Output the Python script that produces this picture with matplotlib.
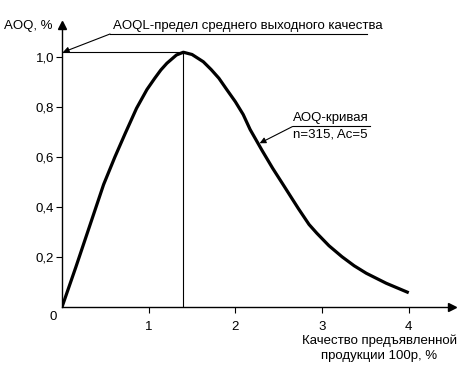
import numpy as np
import matplotlib.pyplot as plt

plt.rcParams['font.family'] = ['Liberation Sans', 'DejaVu Sans']

# AOQ curve, values (p in %, AOQ in %)
p = [0.0, 0.16, 0.32, 0.48, 0.61, 0.73, 0.86, 0.98, 1.07, 1.14, 1.21, 1.32, 1.40,
     1.50, 1.63, 1.72, 1.81, 1.90, 2.0, 2.09, 2.17, 2.31, 2.43, 2.55, 2.66, 2.73,
     2.85, 2.94, 3.08, 3.23, 3.37, 3.51, 3.74, 4.0]
aoq = [0.0, 0.16, 0.325, 0.49, 0.60, 0.695, 0.795, 0.87, 0.915, 0.948, 0.975, 1.008, 1.019,
       1.010, 0.981, 0.95, 0.915, 0.87, 0.821, 0.77, 0.71, 0.625, 0.555, 0.49, 0.43, 0.392,
       0.33, 0.295, 0.245, 0.201, 0.165, 0.135, 0.095, 0.057]

aoql = 1.019
p_aoql = 1.40

xticks = [1, 2, 3, 4]
yticks = [0.2, 0.4, 0.6, 0.8, 1.0]
ytick_labels = ['0,2', '0,4', '0,6', '0,8', '1,0']

fig = plt.figure(figsize=(4.6, 3.66), dpi=100)
ax = fig.add_axes([0.1348, 0.1612, 0.848, 0.7705])
ax.set_xlim(0, 4.5)
ax.set_ylim(0, 1.128)

ax.plot(p, aoq, color='black', lw=2.3, solid_joinstyle='round', solid_capstyle='butt')
ax.plot([p_aoql, p_aoql], [0, aoql], color='black', lw=0.8)
ax.plot([0, p_aoql], [aoql, aoql], color='black', lw=0.8)

# axes with arrows
for s in ['top', 'right']:
    ax.spines[s].set_visible(False)
ax.spines['left'].set_linewidth(1.0)
ax.spines['bottom'].set_linewidth(1.0)
ax.plot(1, 0, '>k', ms=6, transform=ax.get_yaxis_transform(), clip_on=False)
ax.plot(0, 1, '^k', ms=6, transform=ax.get_xaxis_transform(), clip_on=False)

ax.set_xticks(xticks)
ax.set_xticklabels([str(t) for t in xticks])
ax.set_yticks(yticks)
ax.set_yticklabels(ytick_labels)
ax.tick_params(direction='out', length=4, width=0.8, labelsize=9.5, colors='black')
ax.tick_params(axis='x', pad=6)
ax.tick_params(axis='y', pad=1.5)

ax.text(-0.06, -0.015, '0', ha='right', va='top', fontsize=9.5)
ax.text(-0.39, 1.124, 'AOQ, %', ha='center', va='center', fontsize=9.5, clip_on=False)

# AOQL annotation
ax.text(0.59, 1.124, 'AOQL-предел среднего выходного качества', ha='left', va='center',
        fontsize=9.5, clip_on=False)
ax.plot([0.554, 3.52], [1.092, 1.092], color='black', lw=0.8, clip_on=False)
ax.annotate('', xy=(0.01, aoql), xytext=(0.554, 1.092),
            arrowprops=dict(arrowstyle='-|>', color='black', lw=0.8,
                            mutation_scale=9, shrinkA=0, shrinkB=0))

# curve annotation
ax.text(2.67, 0.756, 'AOQ-кривая', ha='left', va='center', fontsize=9.5)
ax.plot([2.66, 3.55], [0.722, 0.722], color='black', lw=0.8)
ax.text(2.67, 0.69, 'n=315, Ac=5', ha='left', va='center', fontsize=9.5)
ax.annotate('', xy=(2.28, 0.655), xytext=(2.66, 0.722),
            arrowprops=dict(arrowstyle='-|>', color='black', lw=0.8,
                            mutation_scale=9, shrinkA=0, shrinkB=0))

ax.text(3.66, -0.164, 'Качество предъявленной\nпродукции 100р, %', ha='center',
        va='center', multialignment='center', fontsize=9.5, linespacing=1.35,
        clip_on=False)

fig.savefig('out.png', dpi=100)
